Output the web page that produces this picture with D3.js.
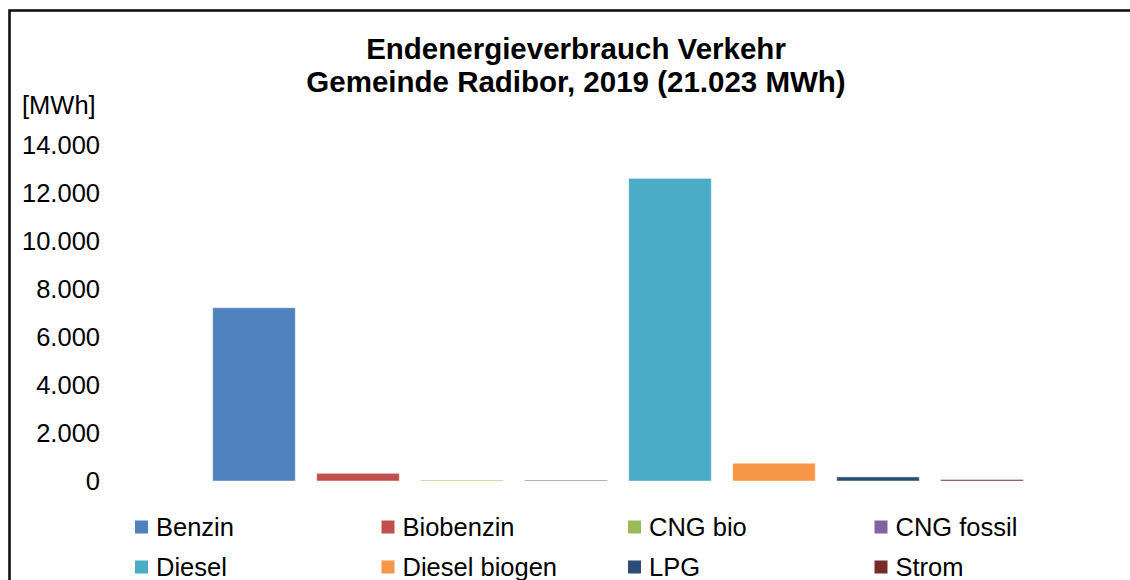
<!DOCTYPE html>
<html>
<head>
<meta charset="utf-8">
<script src="https://cdn.jsdelivr.net/npm/d3@7"></script>
<style>
    body { margin: 0; background: white; }
    text { font-family: "Liberation Sans", Arial, sans-serif; fill: black; }
</style>
</head>
<body>
<script>
var categories = ["Benzin", "Biobenzin", "CNG bio", "CNG fossil", "Diesel", "Diesel biogen", "LPG", "Strom"];
var values = [7220, 320, 40, 40, 12610, 740, 170, 60];
var colors = ["#4F81BD", "#C0504D", "#9BBB59", "#8064A2", "#4BACC6", "#F79646", "#2C4D75", "#772C2A"];
var yTicks = [0, 2000, 4000, 6000, 8000, 10000, 12000, 14000];
var titleLines = ["Endenergieverbrauch Verkehr", "Gemeinde Radibor, 2019 (21.023 MWh)"];
var unitLabel = "[MWh]";

var width = 1130, height = 580;

var de = d3.formatLocale({decimal: ",", thousands: ".", grouping: [3], currency: ["", " €"]});
var fmt = de.format(",");

var svg = d3.select("body").append("svg")
    .attr("width", width)
    .attr("height", height);

svg.append("rect")
    .attr("x", 9.5)
    .attr("y", 10.5)
    .attr("width", 1300)
    .attr("height", 800)
    .style("fill", "white")
    .style("stroke", "#111")
    .style("stroke-width", 2.6);

svg.selectAll(".title")
    .data(titleLines)
    .enter().append("text")
    .attr("class", "title")
    .attr("x", 576)
    .attr("y", function(d, i) { return 58.5 + i * 33.5; })
    .attr("text-anchor", "middle")
    .style("font-size", "29.5px")
    .style("font-weight", "bold")
    .text(function(d) { return d; });

var x = d3.scaleBand()
    .domain(categories)
    .range([202, 1034])
    .paddingInner(0.206)
    .paddingOuter(0.103);

var y = d3.scaleLinear()
    .domain([0, 14000])
    .range([481, 145]);

var yAxis = svg.append("g")
    .attr("transform", "translate(100,0)")
    .call(d3.axisLeft(y).tickValues(yTicks).tickFormat(fmt).tickSize(0).tickPadding(0));
yAxis.select(".domain").remove();
yAxis.selectAll("text")
    .attr("dy", "0.35em")
    .style("font-family", "'Liberation Sans', Arial, sans-serif")
    .style("font-size", "25.5px")
    .style("fill", "black");

svg.append("text")
    .attr("x", 22)
    .attr("y", 114)
    .style("font-size", "25.5px")
    .text(unitLabel);

svg.selectAll(".bar")
    .data(values)
    .enter().append("rect")
    .attr("class", "bar")
    .attr("x", function(d, i) { return x(categories[i]); })
    .attr("y", function(d) { return y(d); })
    .attr("width", x.bandwidth())
    .attr("height", function(d) { return y(0) - y(d); })
    .style("fill", function(d, i) { return colors[i]; })
    .style("stroke", "rgba(255,255,255,0.45)")
    .style("stroke-width", 1);

var legend = svg.selectAll(".legend")
    .data(categories)
    .enter().append("g")
    .attr("class", "legend")
    .attr("transform", function(d, i) {
        return "translate(" + (135 + (i % 4) * 246.5) + "," + (527 + Math.floor(i / 4) * 40) + ")";
    });

legend.append("rect")
    .attr("x", 0)
    .attr("y", -6.5)
    .attr("width", 13)
    .attr("height", 13)
    .style("fill", function(d, i) { return colors[i]; });

legend.append("text")
    .attr("x", 21)
    .attr("dy", "0.35em")
    .style("font-size", "25.5px")
    .text(function(d) { return d; });
</script>
</body>
</html>
